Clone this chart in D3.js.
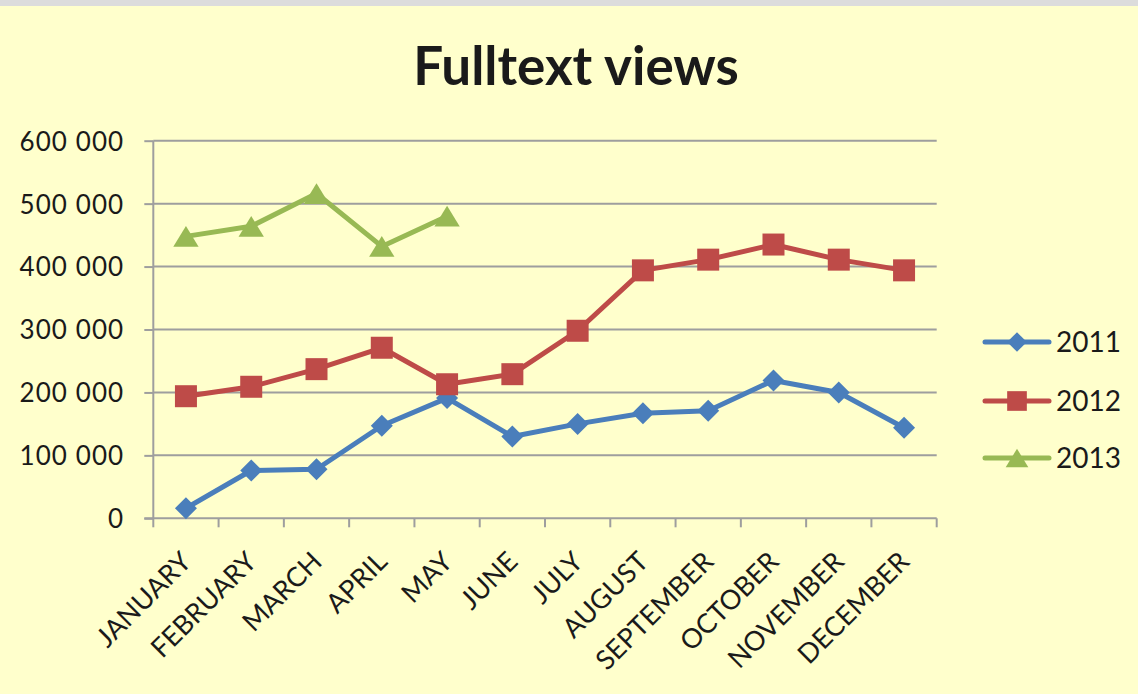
<!DOCTYPE html>
<html>
<head>
<meta charset="utf-8">
<script src="https://cdn.jsdelivr.net/npm/d3@7"></script>
<style>
  html, body { margin: 0; padding: 0; background: #FFFFCC; }
  svg { display: block; }
  text { font-family: Lato, "Open Sans", sans-serif; fill: #1a1a1a; }
</style>
</head>
<body>
<svg id="chart" width="1138" height="694"></svg>
<script>
const months = ["JANUARY","FEBRUARY","MARCH","APRIL","MAY","JUNE","JULY","AUGUST","SEPTEMBER","OCTOBER","NOVEMBER","DECEMBER"];
const values2011 = [16000, 76000, 78000, 147000, 191000, 130000, 150000, 167000, 171000, 219000, 200000, 144000];
const values2012 = [194000, 209000, 237000, 271000, 213000, 229000, 298000, 394000, 411000, 435000, 411000, 394000];
const values2013 = [448000, 464000, 516000, 432000, 480000];
const yTicks = [0, 100000, 200000, 300000, 400000, 500000, 600000];
const seriesNames = ["2011", "2012", "2013"];
const seriesColors = ["#4A7EBB", "#BE4B48", "#98B954"];

(function () {
const svg = d3.select("#chart");
const W = 1138, H = 694;

// Excel-like marker shapes
const diamond = { draw(ctx, size) { const r = Math.sqrt(size / 2); ctx.moveTo(0, -r); ctx.lineTo(r, 0); ctx.lineTo(0, r); ctx.lineTo(-r, 0); ctx.closePath(); } };
const square = { draw(ctx, size) { const h = Math.sqrt(size) / 2; ctx.rect(-h, -h, 2 * h, 2 * h); } };
const triangle = { draw(ctx, size) { const w = Math.sqrt(size) / 2 * 1.1, h = Math.sqrt(size) / 2 * 0.9; ctx.moveTo(0, -h); ctx.lineTo(w, h); ctx.lineTo(-w, h); ctx.closePath(); } };
const seriesShapes = [diamond, square, triangle];
const sizes = [242, 484, 530];

svg.append("rect").attr("x", 0).attr("y", 0).attr("width", W).attr("height", H).attr("fill", "#FFFFCC");
svg.append("rect").attr("x", 0).attr("y", 0).attr("width", W).attr("height", 6).attr("fill", "#DCDCDC");

const pL = 153.3, pR = 936.7, pT = 140.7, pB = 518.3;
const x = d3.scaleBand().domain(months).range([pL, pR]);
const y = d3.scaleLinear().domain([0, 600000]).range([pB, pT]);

const fmt = d3.formatLocale({decimal: ",", thousands: " ", grouping: [3], currency: ["", ""]}).format(",d");
const gridColor = "#9E9E9E";

// gridlines
svg.append("g").selectAll("line").data(yTicks.filter(d => d > 0)).join("line")
  .attr("x1", pL).attr("x2", pR)
  .attr("y1", d => y(d)).attr("y2", d => y(d))
  .attr("stroke", gridColor).attr("stroke-width", 2);

// y axis
const yAxis = svg.append("g").attr("transform", `translate(${pL},0)`)
  .call(d3.axisLeft(y).tickValues(yTicks).tickFormat(fmt).tickSize(9).tickPadding(20));
yAxis.select(".domain").attr("stroke", gridColor).attr("stroke-width", 2).attr("d", `M0,${pT}V${pB}`);
yAxis.selectAll(".tick line").attr("stroke", gridColor).attr("stroke-width", 2);
yAxis.selectAll(".tick text").attr("font-size", 26).attr("font-family", "Lato")
  .attr("letter-spacing", "1.1px").attr("fill", "#1a1a1a").attr("dy", "0.36em");

// x axis line and boundary ticks
const xAxis = svg.append("g").attr("transform", `translate(0,${pB})`);
xAxis.append("line").attr("x1", pL - 9).attr("x2", pR).attr("y1", 0).attr("y2", 0)
  .attr("stroke", gridColor).attr("stroke-width", 2);
const boundaries = months.map(m => x(m)).concat([x(months[months.length - 1]) + x.bandwidth()]);
xAxis.selectAll("line.tk").data(boundaries).join("line").attr("class", "tk")
  .attr("x1", d => d).attr("x2", d => d).attr("y1", 0).attr("y2", 9)
  .attr("stroke", gridColor).attr("stroke-width", 2);

// x labels via axis generator (centered)
const xLab = svg.append("g").attr("transform", `translate(0,${pB})`)
  .call(d3.axisBottom(x).tickSize(0));
xLab.select(".domain").remove();
xLab.selectAll(".tick text")
  .attr("font-size", 27).attr("font-family", "Lato").attr("fill", "#1a1a1a")
  .attr("text-anchor", "end").attr("y", 0).attr("dy", 0)
  .attr("transform", "translate(7,45) rotate(-45)");

// series
const allSeries = [values2011, values2012, values2013];
const line = d3.line().x((d, i) => x(months[i]) + x.bandwidth() / 2).y(d => y(d));
allSeries.forEach((vals, s) => {
  svg.append("path").datum(vals).attr("d", line).attr("fill", "none")
    .attr("stroke", seriesColors[s]).attr("stroke-width", 5).attr("stroke-linejoin", "round");
  svg.append("g").selectAll("path").data(vals).join("path")
    .attr("d", d3.symbol().type(seriesShapes[s]).size(sizes[s]))
    .attr("transform", (d, i) => `translate(${x(months[i]) + x.bandwidth() / 2},${y(d)})`)
    .attr("fill", seriesColors[s]);
});

// legend
const legend = svg.append("g");
seriesNames.forEach((name, s) => {
  const ly = [342, 401, 458][s];
  const g = legend.append("g").attr("transform", `translate(0,${ly})`);
  g.append("line").attr("x1", 985).attr("x2", 1049).attr("y1", 0).attr("y2", 0)
    .attr("stroke", seriesColors[s]).attr("stroke-width", 5).attr("stroke-linecap", "round");
  g.append("path").attr("d", d3.symbol().type(seriesShapes[s]).size(sizes[s] * 0.8))
    .attr("transform", "translate(1017,0)").attr("fill", seriesColors[s]);
  g.append("text").attr("x", 1056).attr("y", 0).attr("dy", "0.36em")
    .attr("font-size", 28).text(name);
});

// title
svg.append("text").attr("x", 576).attr("y", 85).attr("text-anchor", "middle")
  .attr("font-size", 53).attr("font-weight", "bold").attr("fill", "#000").text("Fulltext views");
})();
</script>
</body>
</html>
